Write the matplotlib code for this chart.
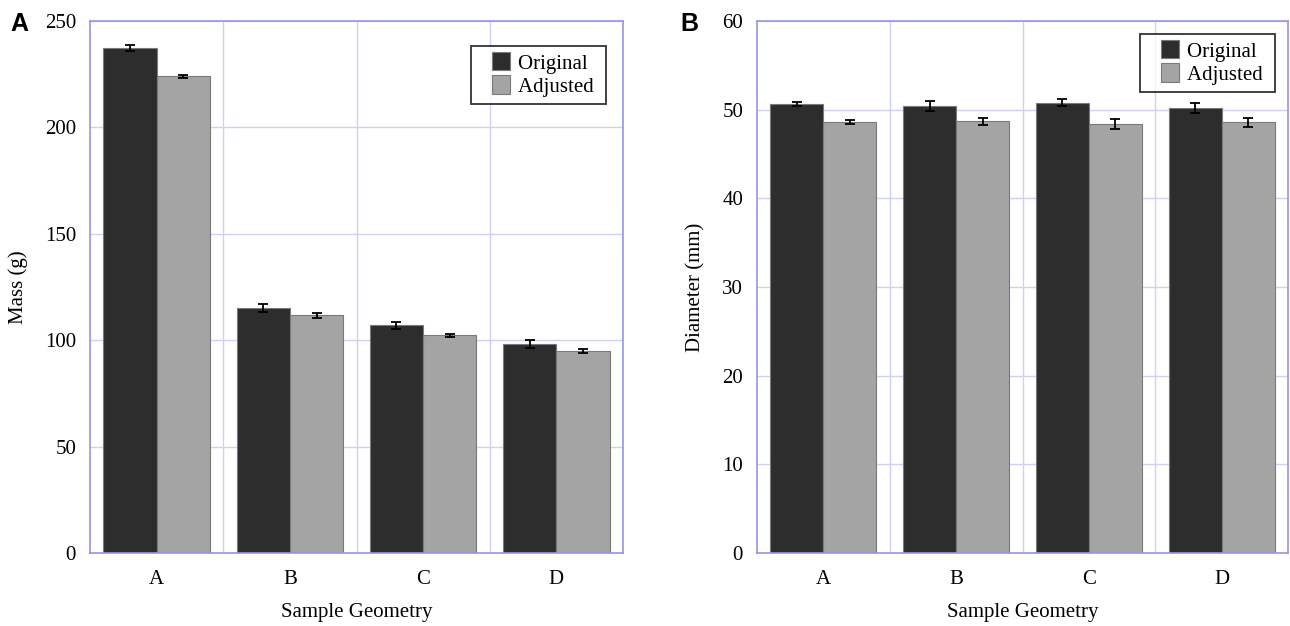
import matplotlib
matplotlib.use("Agg")
import matplotlib.pyplot as plt
import numpy as np
from matplotlib.ticker import FixedLocator
from matplotlib.legend_handler import HandlerBase
from matplotlib.patches import Rectangle
from matplotlib.container import BarContainer

categories = ["A", "B", "C", "D"]
series_names = ["Original", "Adjusted"]

mass_original = [237.3, 115.1, 107.0, 98.2]
mass_original_err = [1.5, 2.0, 1.6, 1.8]
mass_adjusted = [224.1, 111.8, 102.3, 94.9]
mass_adjusted_err = [0.7, 1.2, 0.8, 0.8]

diam_original = [50.65, 50.45, 50.8, 50.2]
diam_original_err = [0.25, 0.55, 0.4, 0.6]
diam_adjusted = [48.6, 48.7, 48.4, 48.6]
diam_adjusted_err = [0.25, 0.4, 0.6, 0.5]

plt.rcParams['font.family'] = ['Liberation Serif', 'DejaVu Serif']

fig = plt.figure(figsize=(12.9, 6.26), dpi=100)
axA = fig.add_axes([90/1290, 1-553/626, (623-90)/1290, (553-21)/626])
axB = fig.add_axes([757/1290, 1-553/626, (1288-757)/1290, (553-21)/626])

c_orig = "#2d2d2d"
c_adj = "#a4a4a4"
spine_c = "#9494ee"
grid_c = "#cfcffc"
w = 0.4


class RightSquare(HandlerBase):
    def create_artists(self, legend, orig_handle, xdescent, ydescent,
                       width, height, fontsize, trans):
        patch = orig_handle.patches[0] if isinstance(orig_handle, BarContainer) else orig_handle
        side = min(height * 1.15, width)
        r = Rectangle((width - xdescent - side, -ydescent + (height - side) / 2),
                      side, side, facecolor=patch.get_facecolor(),
                      edgecolor="#7a7a7a", linewidth=0.8, transform=trans)
        return [r]


def draw(ax, orig, oerr, adj, aerr, ymax, yticks, ylabel, legend_anchor):
    x = np.arange(len(categories))
    b1 = ax.bar(x - w/2, orig, w, color=c_orig, edgecolor="#7a7a7a", linewidth=0.8,
                label=series_names[0], zorder=2)
    b2 = ax.bar(x + w/2, adj, w, color=c_adj, edgecolor="#7a7a7a", linewidth=0.8,
                label=series_names[1], zorder=2)
    ax.errorbar(x - w/2, orig, yerr=oerr, fmt="none", ecolor="black",
                elinewidth=1.3, capsize=3.8, capthick=1.3, zorder=3)
    ax.errorbar(x + w/2, adj, yerr=aerr, fmt="none", ecolor="black",
                elinewidth=1.3, capsize=3.8, capthick=1.3, zorder=3)
    ax.set_xlim(-0.5, len(categories) - 0.5)
    ax.set_ylim(0, ymax)
    ax.set_yticks(yticks)
    ax.set_xticks(x)
    ax.set_xticklabels(categories)
    ax.xaxis.set_minor_locator(FixedLocator(np.arange(0.5, len(categories) - 0.5, 1)))
    ax.grid(True, which="minor", axis="x", color=grid_c, linewidth=1, zorder=0)
    ax.grid(True, which="major", axis="y", color=grid_c, linewidth=1, zorder=0)
    ax.set_axisbelow(True)
    for s in ax.spines.values():
        s.set_color(spine_c)
        s.set_linewidth(1.2)
    ax.tick_params(axis="x", which="both", length=0, labelsize=15, pad=12)
    ax.tick_params(axis="y", which="major", length=0, labelsize=15, pad=10)
    ax.set_xlabel("Sample Geometry", fontsize=15, labelpad=10)
    ax.set_ylabel(ylabel, fontsize=15, labelpad=12)
    leg = ax.legend(handles=[b1, b2], labels=[n + " " for n in series_names],
                    loc="upper right", bbox_to_anchor=legend_anchor, fontsize=15,
                    frameon=True, fancybox=False, edgecolor="black",
                    handlelength=1.55, handleheight=0.8, handletextpad=0.35,
                    borderpad=0.35, labelspacing=0.15, borderaxespad=0,
                    handler_map={BarContainer: RightSquare()})
    leg.get_frame().set_linewidth(1.3)


draw(axA, mass_original, mass_original_err, mass_adjusted, mass_adjusted_err,
     250, [0, 50, 100, 150, 200, 250], "Mass (g)", ((606-90)/533, 1 - 25/532))
draw(axB, diam_original, diam_original_err, diam_adjusted, diam_adjusted_err,
     60, [0, 10, 20, 30, 40, 50, 60], "Diameter (mm)",
     ((1275-757)/531, 1 - 13/532))

fig.text(10/1290, 1-24/626, "A", fontsize=18, fontweight="bold",
         family="Liberation Sans", va="center", ha="left")
fig.text(680/1290, 1-24/626, "B", fontsize=18, fontweight="bold",
         family="Liberation Sans", va="center", ha="left")

fig.savefig("out.png", dpi=100)
